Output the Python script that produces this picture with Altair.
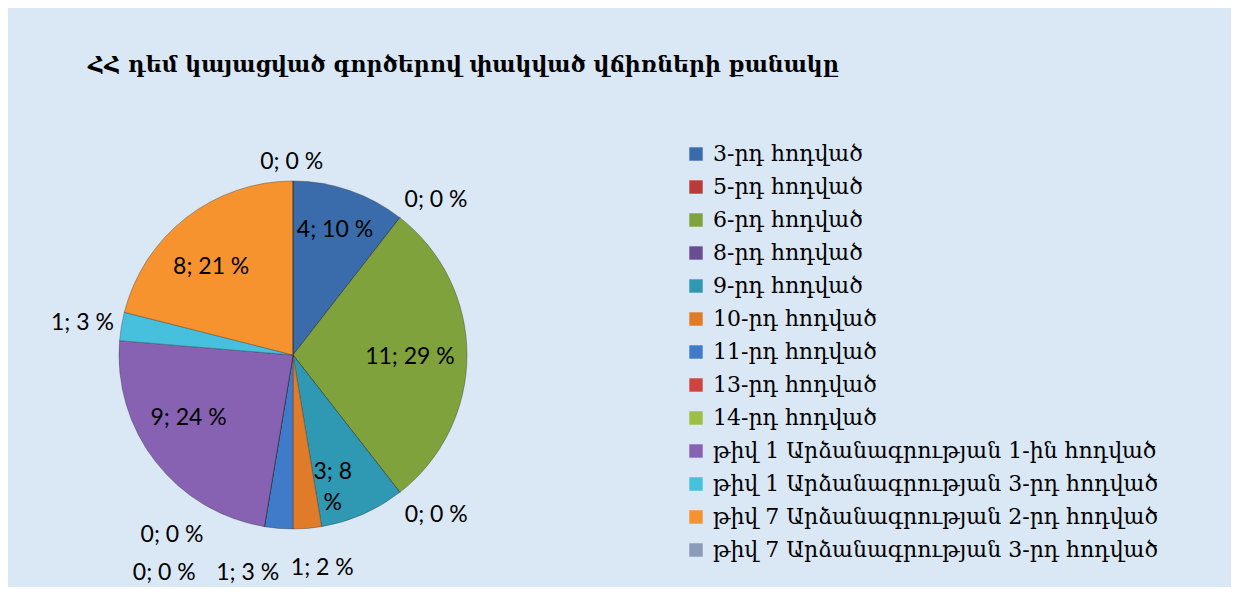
import altair as alt
import pandas as pd

# ---- data ----
categories = [
    "3-րդ հոդված", "5-րդ հոդված", "6-րդ հոդված", "8-րդ հոդված",
    "9-րդ հոդված", "10-րդ հոդված", "11-րդ հոդված", "13-րդ հոդված",
    "14-րդ հոդված",
    "թիվ 1 Արձանագրության 1-ին հոդված",
    "թիվ 1 Արձանագրության 3-րդ հոդված",
    "թիվ 7 Արձանագրության 2-րդ հոդված",
    "թիվ 7 Արձանագրության 3-րդ հոդված",
]
counts = [4, 0, 11, 0, 3, 1, 1, 0, 0, 9, 1, 8, 0]
percents = [10, 0, 29, 0, 8, 2, 3, 0, 0, 24, 3, 21, 0]

title_text = "ՀՀ դեմ կայացված գործերով փակված վճիռների քանակը"

# ---- styles ----
colors = ["#3a6cab", "#b83d3a", "#7fa23d", "#6b4d94", "#2f98b3", "#e07b29",
          "#3f7bc8", "#cf4341", "#9dbf44", "#8762b3", "#46c0dc", "#f6932f",
          "#8a9bb8"]
# label placement (pixel radius from centre, angular nudge in degrees)
label_radius = [132, 211, 117, 215, 124, 215, 223, 217, 253, 122, 213, 120, 193]
label_nudge = [-0.4, 4.8, 1.0, -3.9, 5.0, -3.1, 7.0, 24.4, 21.1, 6.7, -0.9, -5.1, -0.4]
wrap_label = [False, False, False, False, True, False, False, False, False,
              False, False, False, False]

labels = [(f"{c}; {p}\n%" if w else f"{c}; {p} %")
          for c, p, w in zip(counts, percents, wrap_label)]

df = pd.DataFrame({
    "idx": list(range(len(categories))),
    "cat": categories,
    "count": counts,
    "label": labels,
    "lr": label_radius,
    "nudge": label_nudge,
})

CX, CY, R = 285, 347, 174

base = alt.Chart(df)

arcs = base.mark_arc(radius=R, stroke="#2b2b2b", strokeOpacity=0.35, strokeWidth=1).encode(
    theta=alt.Theta("count:Q", stack=True),
    order=alt.Order("idx:Q"),
    color=alt.Color(
        "cat:N",
        scale=alt.Scale(domain=categories, range=colors),
        sort=categories,
        legend=alt.Legend(
            title=None,
            orient="none",
            legendX=677,
            legendY=135,
            symbolType="square",
            symbolSize=180,
            symbolStrokeWidth=0,
            labelFont="DejaVu Serif",
            labelFontSize=22,
            labelColor="black",
            labelOffset=6,
            labelLimit=700,
            rowPadding=11,
            padding=0,
        ),
    ),
    x=alt.value(CX),
    y=alt.value(CY),
)

texts = base.transform_joinaggregate(
    total="sum(count)"
).transform_window(
    cum="sum(count)", sort=[alt.SortField("idx")], frame=[None, 0]
).transform_calculate(
    ang="(datum.cum - datum.count / 2) / datum.total * 2 * PI + datum.nudge * PI / 180"
).mark_text(
    font="Lato", fontSize=23, color="black", lineBreak="\n", lineHeight=31,
    align="center", baseline="middle",
).encode(
    theta=alt.Theta("ang:Q", scale=None, stack=None),
    radius=alt.Radius("lr:Q", scale=None),
    text="label:N",
    x=alt.value(CX),
    y=alt.value(CY),
)

chart = alt.layer(arcs, texts).properties(
    width=1223,
    height=579,
    autosize="none",
    padding=0,
    background="#dae7f4",
    title=alt.Title(
        title_text,
        anchor="start",
        frame="group",
        font="DejaVu Serif",
        fontSize=22,
        fontWeight="bold",
        color="black",
        baseline="alphabetic",
        dx=80,
        dy=90,
    ),
).configure_view(stroke=None)

chart.save("out.html", embed_options={"renderer": "svg", "actions": False})
